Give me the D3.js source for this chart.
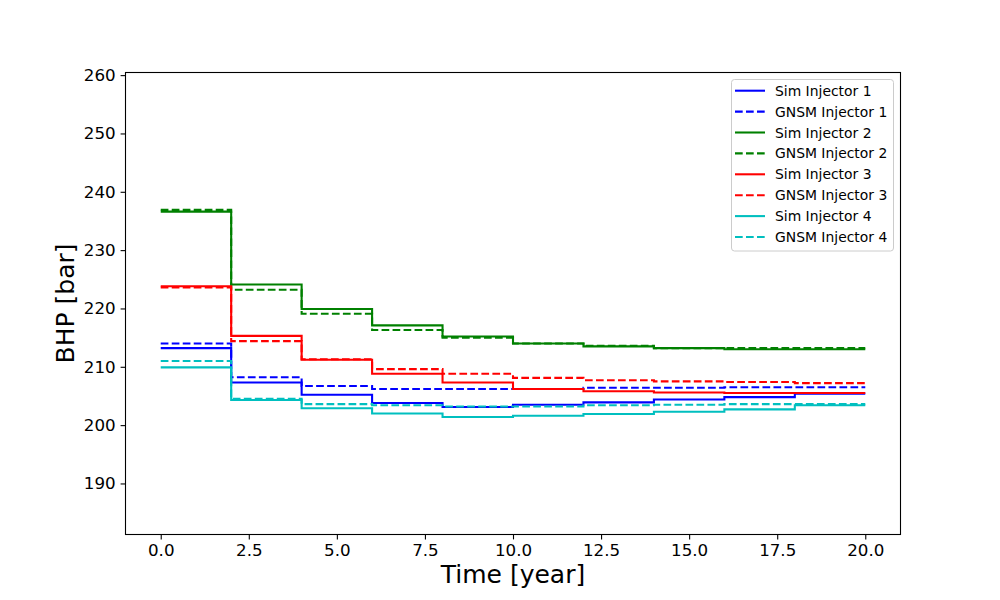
<!DOCTYPE html>
<html>
<head>
<meta charset="utf-8">
<script src="https://cdn.jsdelivr.net/npm/d3@7/dist/d3.min.js"></script>
<style>
    body { margin: 0; background: #fff; }
    text { font-family: "DejaVu Sans", sans-serif; fill: #000; }
</style>
</head>
<body>
<script>
// report times (years), one value per 2-year step
var years = [0, 2, 4, 6, 8, 10, 12, 14, 16, 18];
var endYear = 20;

var simInj1 = [213.2, 207.3, 205.2, 203.8, 203.1, 203.5, 203.9, 204.4, 204.8, 205.4];
var gnsmInj1 = [214.0, 208.2, 206.7, 206.2, 206.2, 206.2, 206.4, 206.4, 206.5, 206.5];
var simInj2 = [236.6, 224.1, 219.9, 217.1, 215.2, 214.0, 213.5, 213.2, 213.0, 213.0];
var gnsmInj2 = [236.9, 223.2, 219.1, 216.3, 215.0, 214.0, 213.6, 213.2, 213.2, 213.2];
var simInj3 = [223.8, 215.3, 211.2, 208.8, 207.3, 206.2, 205.8, 205.6, 205.5, 205.5];
var gnsmInj3 = [223.6, 214.4, 211.3, 209.6, 208.8, 208.1, 207.7, 207.5, 207.4, 207.2];
var simInj4 = [209.9, 204.3, 202.9, 202.0, 201.4, 201.6, 201.9, 202.3, 202.7, 203.4];
var gnsmInj4 = [211.0, 204.5, 203.6, 203.4, 203.2, 203.2, 203.4, 203.5, 203.6, 203.6];

var xTicks = [0, 2.5, 5, 7.5, 10, 12.5, 15, 17.5, 20];
var yTicks = [190, 200, 210, 220, 230, 240, 250, 260];

var seriesList = [
    {name: "Sim Injector 1", values: simInj1, color: "#0000ff", dashed: false},
    {name: "GNSM Injector 1", values: gnsmInj1, color: "#0000ff", dashed: true},
    {name: "Sim Injector 2", values: simInj2, color: "#008000", dashed: false},
    {name: "GNSM Injector 2", values: gnsmInj2, color: "#008000", dashed: true},
    {name: "Sim Injector 3", values: simInj3, color: "#ff0000", dashed: false},
    {name: "GNSM Injector 3", values: gnsmInj3, color: "#ff0000", dashed: true},
    {name: "Sim Injector 4", values: simInj4, color: "#00bfbf", dashed: false},
    {name: "GNSM Injector 4", values: gnsmInj4, color: "#00bfbf", dashed: true}
];

var width = 1000,
    height = 600,
    plotLeft = 125.5,
    plotRight = 900.5,
    plotTop = 72.5,
    plotBottom = 534.5,
    lineW = 2.08,
    dash = "7.7,3.3",
    tickLen = 4.9,
    tickFont = 16.7;

var svg = d3.select("body").append("svg")
            .attr("width", width)
            .attr("height", height);

var x = d3.scaleLinear().domain([-1, 21]).range([plotLeft, plotRight]);
var y = d3.scaleLinear().domain([181.25, 260.45]).range([plotBottom, plotTop]);

var line = d3.line()
             .x(function(d) { return x(d[0]); })
             .y(function(d) { return y(d[1]); })
             .curve(d3.curveStepAfter);

// lines, drawn in plotting order so GNSM 4 ends on top
svg.selectAll(".series")
   .data(seriesList)
   .enter()
   .append("path")
   .attr("class", "series")
   .attr("fill", "none")
   .attr("stroke", function(d) { return d.color; })
   .attr("stroke-width", lineW)
   .attr("stroke-dasharray", function(d) { return d.dashed ? dash : null; })
   .attr("d", function(d) {
       var pts = years.map(function(t, i) { return [t, d.values[i]]; });
       pts.push([endYear, d.values[d.values.length - 1]]);
       return line(pts);
   });

// axes
var xAxis = d3.axisBottom(x).tickValues(xTicks)
              .tickFormat(d3.format(".1f"))
              .tickSize(tickLen).tickPadding(4.9);
var yAxis = d3.axisLeft(y).tickValues(yTicks)
              .tickFormat(d3.format("d"))
              .tickSize(tickLen).tickPadding(4.9);

var gx = svg.append("g").attr("transform", "translate(0," + plotBottom + ")").call(xAxis);
var gy = svg.append("g").attr("transform", "translate(" + plotLeft + ",0)").call(yAxis);

[gx, gy].forEach(function(g) {
    g.select(".domain").remove();
    g.selectAll("line").attr("stroke", "#000").attr("stroke-width", 1.1);
    g.selectAll("text")
     .style("font-family", "'DejaVu Sans', sans-serif")
     .style("font-size", tickFont + "px")
     .attr("fill", "#000");
});

svg.append("rect")
   .attr("x", plotLeft).attr("y", plotTop)
   .attr("width", plotRight - plotLeft).attr("height", plotBottom - plotTop)
   .attr("fill", "none")
   .attr("stroke", "#000")
   .attr("stroke-width", 1.1);

// axis titles
svg.append("text")
   .attr("x", (plotLeft + plotRight) / 2)
   .attr("y", 583)
   .attr("text-anchor", "middle")
   .style("font-size", "25px")
   .text("Time [year]");

svg.append("text")
   .attr("transform", "translate(74," + ((plotTop + plotBottom) / 2) + ") rotate(-90)")
   .attr("text-anchor", "middle")
   .style("font-size", "25px")
   .text("BHP [bar]");

// legend
var legX = 731.5, legY = 79.5, legW = 162, legH = 171.5, rowH = 20.9;
var legend = svg.append("g").attr("class", "legend");

legend.append("rect")
      .attr("x", legX).attr("y", legY)
      .attr("width", legW).attr("height", legH)
      .attr("rx", 3).attr("ry", 3)
      .attr("fill", "#fff").attr("fill-opacity", 0.8)
      .attr("stroke", "#cccccc").attr("stroke-width", 1);

var rows = legend.selectAll(".legRow")
                 .data(seriesList)
                 .enter()
                 .append("g")
                 .attr("class", "legRow")
                 .attr("transform", function(d, i) { return "translate(0," + (legY + 11.2 + i * rowH) + ")"; });

rows.append("line")
    .attr("x1", legX + 3.5).attr("x2", legX + 33.5)
    .attr("stroke", function(d) { return d.color; })
    .attr("stroke-width", lineW)
    .attr("stroke-dasharray", function(d) { return d.dashed ? dash : null; });

rows.append("text")
    .attr("x", legX + 43.5)
    .attr("dy", "0.36em")
    .style("font-size", "13.9px")
    .text(function(d) { return d.name; });
</script>
</body>
</html>
